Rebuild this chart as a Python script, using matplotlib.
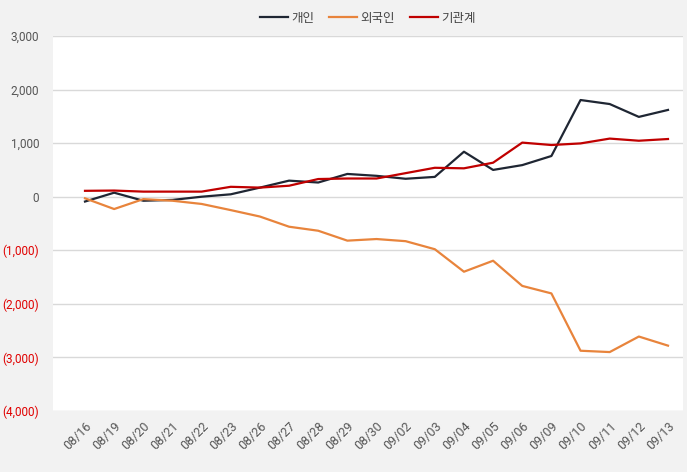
import numpy as np
import matplotlib
matplotlib.use("Agg")
import matplotlib.pyplot as plt
from matplotlib.ticker import FuncFormatter

dates = ["08/16", "08/19", "08/20", "08/21", "08/22", "08/23", "08/26", "08/27",
         "08/28", "08/29", "08/30", "09/02", "09/03", "09/04", "09/05", "09/06",
         "09/09", "09/10", "09/11", "09/12", "09/13"]
individual = [-90, 75, -75, -60, 0, 45, 170, 300, 265, 425, 390, 335, 370, 840,
              500, 590, 760, 1805, 1730, 1490, 1620]
foreign = [-30, -230, -45, -75, -135, -250, -370, -560, -635, -820, -790, -830,
           -980, -1400, -1195, -1665, -1805, -2875, -2900, -2610, -2780]
institution = [110, 115, 95, 95, 95, 185, 170, 205, 330, 340, 340, 440, 540,
               530, 635, 1010, 965, 995, 1085, 1045, 1077]

plt.rcParams['font.family'] = ['Roboto', 'Noto Sans CJK KR', 'DejaVu Sans']

fig = plt.figure(figsize=(6.87, 4.72), dpi=100, facecolor='#f2f2f2')
ax = fig.add_axes([53/687, 1-411/472, 630/687, 375/472])
ax.set_facecolor('white')

x = np.arange(len(dates))
ax.plot(x, individual, color='#1f2633', lw=1.6, label='개인')
ax.plot(x, foreign, color='#e8843c', lw=1.6, label='외국인')
ax.plot(x, institution, color='#c00000', lw=1.6, label='기관계')

ax.set_xlim(-32/29.15, 20 + 15/29.15)
ax.set_ylim(-4000, 3000)
ax.set_yticks(np.arange(-4000, 3001, 1000))
ax.yaxis.set_major_formatter(FuncFormatter(
    lambda v, p: f"({abs(v):,.0f})" if v < 0 else f"{v:,.0f}"))
for lab, v in zip(ax.get_yticklabels(), ax.get_yticks()):
    lab.set_color('#e00000' if v < 0 else '#555555')
ax.grid(axis='y', color='#d9d9d9', lw=1)
ax.set_axisbelow(True)
for s in ax.spines.values():
    s.set_visible(False)
ax.tick_params(axis='both', length=0, labelsize=9)
ax.tick_params(axis='y', pad=10, labelsize=8.5)
ax.set_xticks(x)
ax.set_xticklabels(dates, rotation=45, ha='right', rotation_mode='anchor',
                   color='#555555')
ax.tick_params(axis='x', pad=6)

leg = ax.legend(loc='lower center', bbox_to_anchor=(0.5, 1.0), ncol=3,
                frameon=False, fontsize=9, handlelength=2.2, handletextpad=0.3,
                columnspacing=1.2)
for t in leg.get_texts():
    t.set_color('#444444')

fig.savefig('out.png', dpi=100, facecolor=fig.get_facecolor())
